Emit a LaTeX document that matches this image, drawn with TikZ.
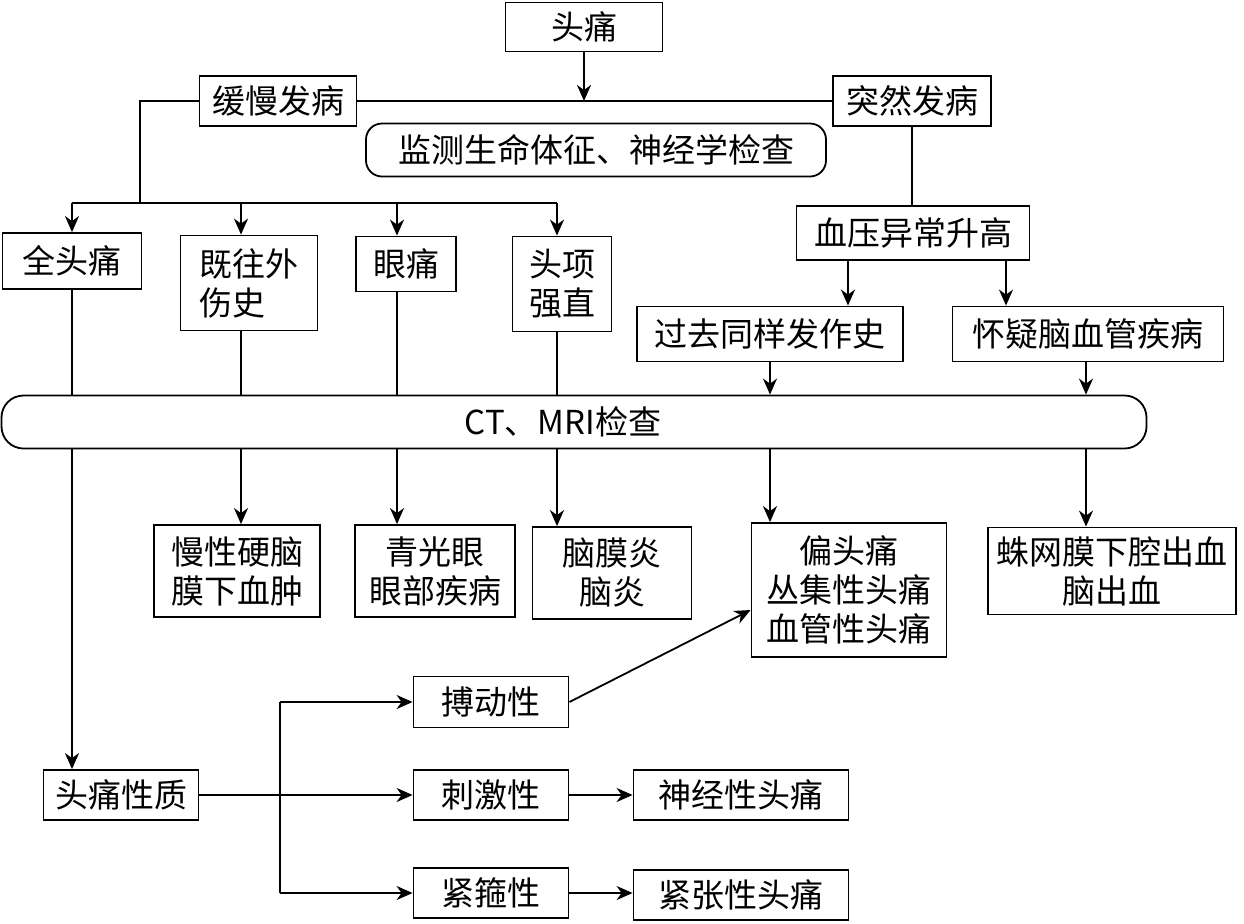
\documentclass[tikz,border=0pt]{standalone}
\usepackage{fontspec}
\setmainfont{Noto Sans CJK SC}
\usetikzlibrary{arrows.meta}

\tikzset{
  box/.style={draw, line width=0.9pt, inner sep=2pt, align=center,
    font=\fontsize{16.5}{19.5}\selectfont},
  rbox/.style={box, rounded corners=8pt},
  arr/.style={-{Stealth[length=8pt,width=7pt,inset=2.5pt]}},
}

\begin{document}
\begin{tikzpicture}[x=0.5pt, y=-0.5pt, line width=0.9pt]
\useasboundingbox (0,0) rectangle (1244,923);

% upper part
\node[box, minimum width=78.5pt, minimum height=24.5pt] (tt)  at (584,27)  {头痛};
\node[box, minimum width=78.5pt, minimum height=25pt]   (slow)   at (278,101) {缓慢发病};
\node[box, minimum width=79pt, minimum height=25pt]     (sudden) at (912,101) {突然发病};
\node[rbox, minimum width=230pt, minimum height=26.5pt] (mon) at (596,150) {监测生命体征、神经学检查};

\node[box, minimum width=69.5pt, minimum height=28pt]   (qt) at (72,261)  {全头痛};
\node[box, minimum width=68.5pt, minimum height=47.5pt, align=left] (jw) at (249,283) {既往外\\伤史};
\node[box, minimum width=50pt, minimum height=27.5pt]   (yt) at (406,264) {眼痛};
\node[box, minimum width=49.5pt, minimum height=47.5pt, align=left] (tx) at (562,284) {头项\\强直};
\node[box, minimum width=116.5pt, minimum height=27pt]  (bp) at (913,233) {血压异常升高};
\node[box, minimum width=133pt, minimum height=27.5pt]  (gq) at (770,334) {过去同样发作史};
\node[box, minimum width=135.5pt, minimum height=27.5pt] (hy) at (1088,334) {怀疑脑血管疾病};

% CT
\node[box, rounded corners=11pt, minimum width=572.5pt, minimum height=26.5pt] (ct) at (574,422) {\hspace*{-11pt}CT、MRI检查};

% results
\node[box, minimum width=83pt, minimum height=46pt]   (mx) at (237,571)  {慢性硬脑\\膜下血肿};
\node[box, minimum width=80pt, minimum height=46pt]   (qg) at (435,571)  {青光眼\\眼部疾病};
\node[box, minimum width=79.5pt, minimum height=46pt] (nm) at (612,573)  {脑膜炎\\脑炎};
\node[box, minimum width=97.5pt, minimum height=67pt] (pt) at (849,590)  {偏头痛\\丛集性头痛\\血管性头痛};
\node[box, minimum width=124pt, minimum height=43.5pt] (zw) at (1112,571) {蛛网膜下腔出血\\脑出血};

% headache nature
\node[box, minimum width=77.5pt, minimum height=25pt]  (xz) at (121,795) {头痛性质};
\node[box, minimum width=77.5pt, minimum height=25.5pt] (bd) at (491,702) {搏动性};
\node[box, minimum width=77.5pt, minimum height=25pt]  (cj) at (491,795) {刺激性};
\node[box, minimum width=77.5pt, minimum height=25pt]  (jg) at (491,893) {紧箍性};
\node[box, minimum width=107.5pt, minimum height=25pt] (sj) at (741,795) {神经性头痛};
\node[box, minimum width=107.5pt, minimum height=25pt] (jz) at (741,895) {紧张性头痛};

% column and junction points
\coordinate (lb) at (140,203);
\coordinate (fk) at (280,0);
\path (72,0) coordinate (k1) (241,0) coordinate (k2) (397,0) coordinate (k3)
      (557,0) coordinate (k4) (770,0) coordinate (k5) (1086,0) coordinate (k6);

% connectors
\draw[arr] (tt.south) -- (tt |- slow);
\draw (slow.east) -- (sudden.west);
\draw (slow.west) -| (lb);
\draw (k1 |- lb) -- (k4 |- lb);
\foreach \k/\a/\b in {k1/qt/xz, k2/jw/mx, k3/yt/qg, k4/tx/nm} {
  \draw[arr] (\k |- lb) -- (\k |- \a.north);
  \draw (\k |- \a.south) -- (\k |- ct.north);
  \draw[arr] (\k |- ct.south) -- (\k |- \b.north);
}
\draw (sudden.south) -- (sudden |- bp.north);
\draw[arr] ([xshift=-32.5pt]bp.south) -- ([xshift=-32.5pt]bp.south |- gq.north);
\draw[arr] ([xshift=46.5pt]bp.south) -- ([xshift=46.5pt]bp.south |- hy.north);
\foreach \k/\a/\b in {k5/gq/pt, k6/hy/zw} {
  \draw[arr] (\k |- \a.south) -- (\k |- ct.north);
  \draw[arr] (\k |- ct.south) -- (\k |- \b.north);
}

\draw[arr] (xz.east) -- (cj.west);
\draw (fk |- bd) -- (fk |- jg);
\draw[arr] (fk |- bd) -- (bd.west);
\draw[arr] (fk |- jg) -- (jg.west);
\draw[arr] (cj.east) -- (sj.west);
\draw[arr] (jg.east) -- (jg.east -| jz.west);
\draw[arr] (bd.east) -- ([yshift=-10pt]pt.west);

\end{tikzpicture}
\end{document}
